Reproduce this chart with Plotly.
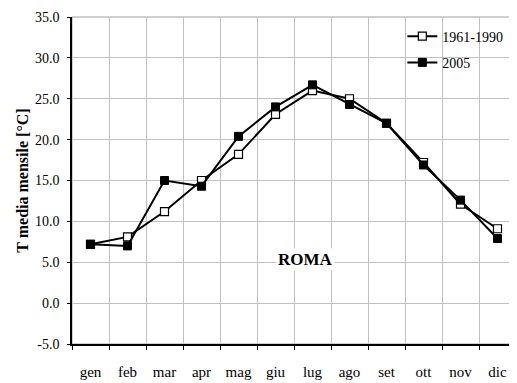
import plotly.graph_objects as go

months = ["gen", "feb", "mar", "apr", "mag", "giu", "lug", "ago", "set", "ott", "nov", "dic"]
t_1961_1990 = [7.2, 8.1, 11.2, 15.0, 18.2, 23.1, 26.0, 25.0, 22.0, 17.2, 12.1, 9.1]
t_2005 = [7.2, 7.0, 15.0, 14.3, 20.4, 24.0, 26.7, 24.3, 22.0, 16.9, 12.6, 7.9]
y_ticks = [-5, 0, 5, 10, 15, 20, 25, 30, 35]
y_tick_labels = ["-5.0", "0.0", "5.0", "10.0", "15.0", "20.0", "25.0", "30.0", "35.0"]

serif = "Liberation Serif"

fig = go.Figure()
fig.add_trace(go.Scatter(
    x=months, y=t_1961_1990, name="1961-1990", mode="lines+markers",
    line=dict(color="black", width=2),
    marker=dict(symbol="square", size=8, color="white", line=dict(color="black", width=1.2)),
    legend="legend",
))
fig.add_trace(go.Scatter(
    x=months, y=t_2005, name="2005", mode="lines+markers",
    line=dict(color="black", width=2),
    marker=dict(symbol="square", size=8, color="black", line=dict(color="black", width=1)),
    legend="legend2",
))

fig.add_annotation(x=5.8, y=5.3, text="<b>ROMA</b>", showarrow=False,
                   font=dict(family=serif, size=17, color="black"),
                   bgcolor="white")

leg_common = dict(xanchor="left", yanchor="middle", bgcolor="rgba(255,255,255,0)",
                  borderwidth=0, font=dict(family=serif, size=14, color="black"),
                  itemwidth=30)

fig.update_layout(
    width=509, height=375,
    margin=dict(l=64, r=1, t=9, b=39, autoexpand=False),
    paper_bgcolor="white", plot_bgcolor="white",
    font=dict(family=serif, size=13, color="black"),
    showlegend=True,
    legend=dict(x=0.744, y=0.94, **leg_common),
    legend2=dict(x=0.744, y=0.86, **leg_common),
    xaxis=dict(
        type="category", tickson="boundaries", showgrid=True, gridcolor="#c0c0c0", gridwidth=1,
        showline=True, linecolor="black", linewidth=1.5,
        ticks="outside", ticklen=4, tickcolor="black",
        range=[-0.5, 11.5], tickfont=dict(family=serif, size=15, color="black"),
        ticklabelstandoff=13, automargin=False,
    ),
    yaxis=dict(
        range=[-5, 35], tickvals=y_ticks, ticktext=y_tick_labels,
        showgrid=True, gridcolor="#c0c0c0", gridwidth=1, zeroline=False,
        showline=True, linecolor="black", linewidth=1.5,
        ticks="outside", ticklen=3, tickcolor="black",
        tickfont=dict(family=serif, size=14, color="black"),
        ticklabelstandoff=5, automargin=False,
        title=dict(text="<b>T media mensile [°C]</b>", font=dict(family=serif, size=16, color="black"), standoff=2),
    ),
    shapes=[dict(type="rect", xref="paper", yref="paper", x0=0, x1=1, y0=0, y1=1,
                 line=dict(color="#a0a0a0", width=1), layer="below")],
)

fig.write_html("out.html")
